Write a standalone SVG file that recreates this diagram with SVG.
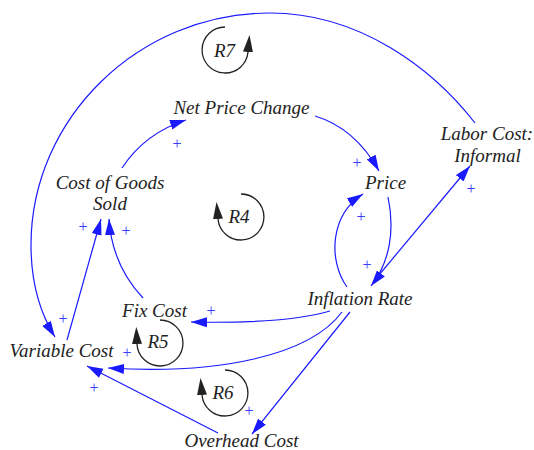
<svg xmlns="http://www.w3.org/2000/svg" width="534" height="450" viewBox="0 0 534 450">
<defs>
<style>
.lbl{font-family:"Liberation Serif","Times New Roman",serif;font-style:italic;font-size:19px;fill:#222;text-anchor:middle}
.pl{font-family:"Liberation Serif","Times New Roman",serif;font-size:16px;fill:#3a3aff;text-anchor:middle}
.c{fill:none;stroke:#1a1aff;stroke-width:1.2;marker-end:url(#ba)}
.c0{fill:none;stroke:#1a1aff;stroke-width:1.2}
.lp{fill:none;stroke:#222;stroke-width:1.3;marker-end:url(#ka)}
</style>
<marker id="ba" markerUnits="userSpaceOnUse" markerWidth="18" markerHeight="12" refX="16" refY="5" orient="auto"><path d="M0,0 L16,5 L0,10 z" fill="#1a1aff"/></marker>
<marker id="ka" markerUnits="userSpaceOnUse" markerWidth="18" markerHeight="12" refX="0" refY="5" orient="auto"><path d="M0,0 L17,5 L0,10 z" fill="#222"/></marker>
</defs>
<rect width="534" height="450" fill="#fff"/>
<g id="connectors">
<path class="c" d="M475,123 C433,69 360,13 270,13 C138,13 31,119 31,245 C31,285 40,313 55,337"/>
<path class="c" d="M315,116 Q355,128 379,171"/>
<path class="c" d="M122,168 Q145,133 186,120"/>
<path class="c" d="M388,197 C395,230 390,262 371,286"/>
<path class="c" d="M347,287 C328,260 330,215 363,194"/>
<path class="c" d="M374,281 L470,166"/>
<path class="c" d="M330,311 Q285,324 191,322"/>
<path class="c" d="M342,312 C310,355 220,375 108,368"/>
<path class="c" d="M350,312 L252,434"/>
<path class="c" d="M218,433 L87,366"/>
<path class="c" d="M67,340 L101,219"/>
<path class="c" d="M143,298 Q112,265 109,219"/>
</g>
<g id="loops">
<g id="loop-R7"><path class="lp" d="M225,27 A23,23 0 1 0 248,52"/><text class="lbl" x="224.5" y="57">R7</text></g>
<g id="loop-R4"><path class="lp" d="M241,194 A23,23 0 1 1 218,219"/><text class="lbl" x="239" y="223">R4</text></g>
<g id="loop-R5"><path class="lp" d="M160,320 A23,23 0 1 1 137,344"/><text class="lbl" x="158" y="348">R5</text></g>
<g id="loop-R6"><path class="lp" d="M225,370 A23,23 0 1 1 202,395"/><text class="lbl" x="223" y="399">R6</text></g>
</g>
<g id="polarities">
<text class="pl" x="177" y="149">+</text>
<text class="pl" x="357" y="168">+</text>
<text class="pl" x="361" y="222">+</text>
<text class="pl" x="471" y="194">+</text>
<text class="pl" x="367" y="270">+</text>
<text class="pl" x="83" y="232">+</text>
<text class="pl" x="126" y="236">+</text>
<text class="pl" x="63" y="324">+</text>
<text class="pl" x="127" y="358">+</text>
<text class="pl" x="211" y="316">+</text>
<text class="pl" x="94" y="393">+</text>
<text class="pl" x="249" y="416">+</text>
</g>
<g id="node-net-price-change"><text class="lbl" x="241.5" y="114">Net Price Change</text></g>
<g id="node-labor-cost"><text class="lbl" x="487" y="140">Labor Cost:</text><text class="lbl" x="487.5" y="162">Informal</text></g>
<g id="node-price"><text class="lbl" x="385.5" y="189">Price</text></g>
<g id="node-cogs"><text class="lbl" x="110" y="189">Cost of Goods</text><text class="lbl" x="110" y="210">Sold</text></g>
<g id="node-inflation-rate"><text class="lbl" x="360" y="305">Inflation Rate</text></g>
<g id="node-fix-cost"><text class="lbl" x="154.5" y="317">Fix Cost</text></g>
<g id="node-variable-cost"><text class="lbl" x="61.5" y="357">Variable Cost</text></g>
<g id="node-overhead-cost"><text class="lbl" x="241.5" y="447">Overhead Cost</text></g>
</svg>
